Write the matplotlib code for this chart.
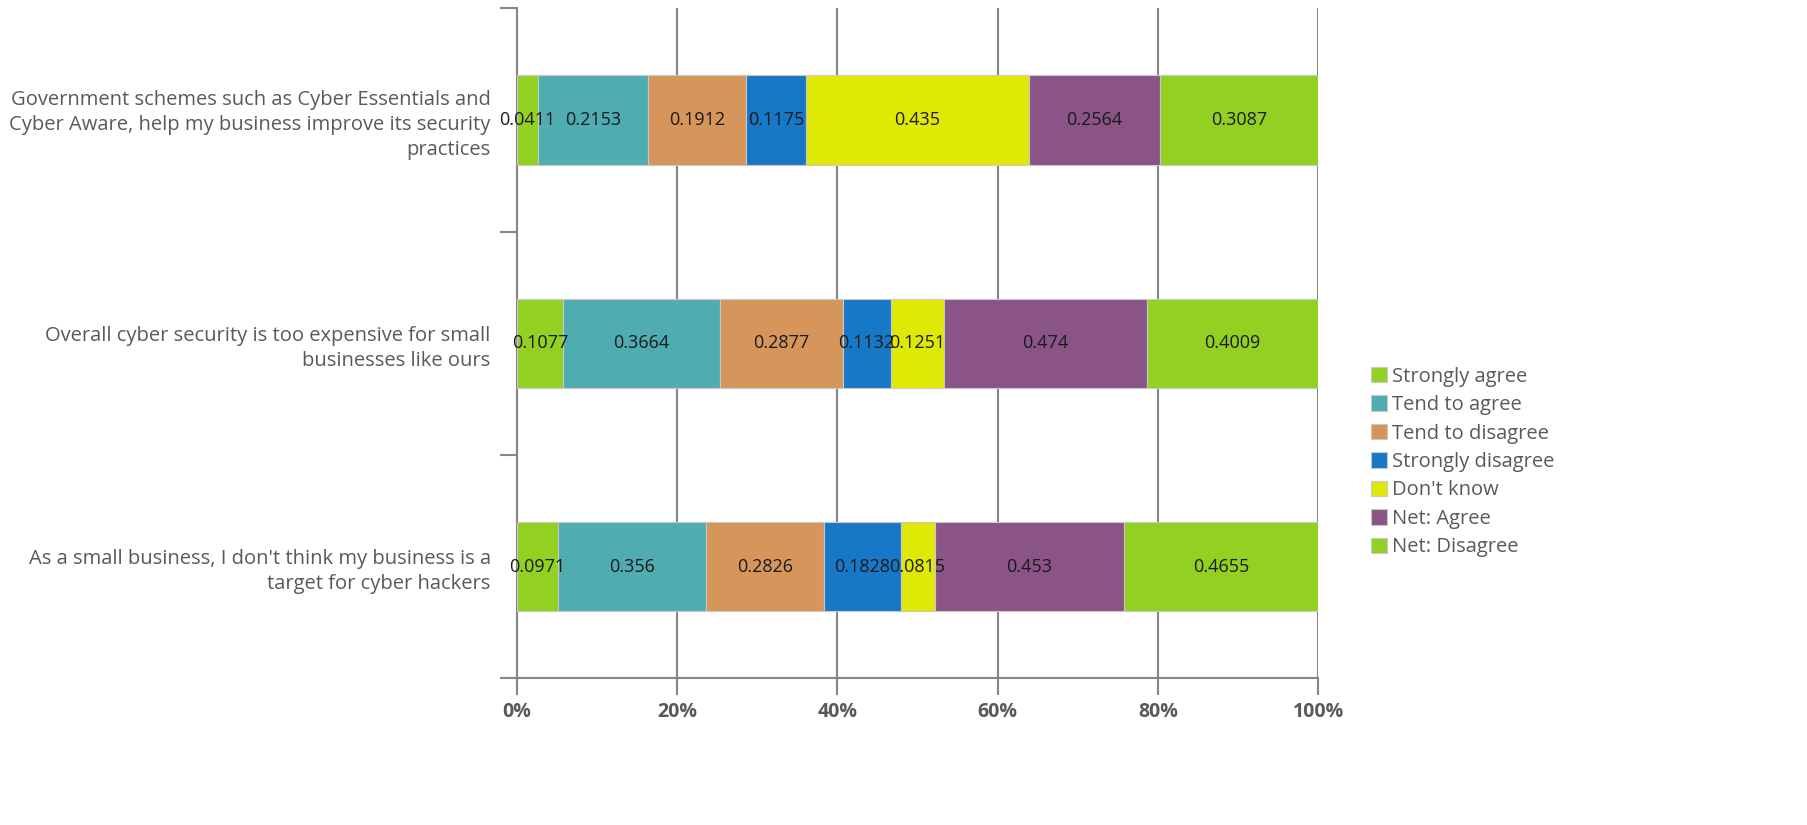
import matplotlib.pyplot as plt
import numpy as np

# Survey statements (top to bottom as in the chart)
statements = [
    "Government schemes such as Cyber Essentials and\nCyber Aware, help my business improve its security\npractices",
    "Overall cyber security is too expensive for small\nbusinesses like ours",
    "As a small business, I don't think my business is a\ntarget for cyber hackers",
]
series = ["Strongly agree", "Tend to agree", "Tend to disagree", "Strongly disagree",
          "Don't know", "Net: Agree", "Net: Disagree"]

strongly_agree = [0.0411, 0.1077, 0.0971]
tend_agree = [0.2153, 0.3664, 0.356]
tend_disagree = [0.1912, 0.2877, 0.2826]
strongly_disagree = [0.1175, 0.1132, 0.1828]
dont_know = [0.435, 0.1251, 0.0815]
net_agree = [0.2564, 0.474, 0.453]
net_disagree = [0.3087, 0.4009, 0.4655]

colors = ["#92d022", "#4fadb2", "#d6955a", "#1878c8", "#e0e805", "#8a5486", "#92d022"]

values = np.array([strongly_agree, tend_agree, tend_disagree, strongly_disagree,
                   dont_know, net_agree, net_disagree])
totals = values.sum(axis=0)
shares = values / totals

fig = plt.figure(figsize=(18.08, 8.25), dpi=100)
ax = fig.add_axes([0.286, 0.178, 0.443, 0.812])

ypos = np.array([2, 1, 0])
left = np.zeros(3)
for i, name in enumerate(series):
    ax.barh(ypos, shares[i], left=left, height=0.4, color=colors[i],
            edgecolor="#c8c8c8", linewidth=0.8, label=name, zorder=3)
    for j in range(3):
        ax.text(left[j] + shares[i][j] / 2, ypos[j], f"{values[i][j]:g}",
                ha="center", va="center", fontsize=13, color="#1a1a1a",
                family="Open Sans", zorder=4)
    left += shares[i]

ax.set_xlim(0, 1)
ax.set_ylim(-0.5, 2.5)
ax.set_xticks(np.arange(0, 1.01, 0.2))
ax.set_xticklabels([f"{int(round(v * 100))}%" for v in np.arange(0, 1.01, 0.2)],
                   fontsize=14, fontweight="bold", color="#595959", family="Open Sans")
ax.tick_params(axis="x", length=12, width=1.5, color="#868686", pad=5)
ax.grid(axis="x", color="#868686", linewidth=1.5, zorder=0)

ax.set_yticks([-0.5, 0.5, 1.5, 2.5])
ax.set_yticklabels([])
ax.tick_params(axis="y", which="major", length=12, width=1.5, color="#868686")
ax.set_yticks(ypos, minor=True)
ax.set_yticklabels(statements, minor=True, fontsize=14.5, color="#595959",
                   family="Open Sans", linespacing=1.35)
ax.tick_params(axis="y", which="minor", length=0, pad=19)

for s in ["top", "right"]:
    ax.spines[s].set_visible(False)
for s in ["left", "bottom"]:
    ax.spines[s].set_color("#868686")
    ax.spines[s].set_linewidth(1.5)

handles, labels = ax.get_legend_handles_labels()
leg = fig.legend(handles, labels, loc="center left", bbox_to_anchor=(0.748, 0.44),
                 frameon=False, prop={"family": "Open Sans", "size": 14.5},
                 handlelength=0.8, handleheight=0.8, handletextpad=0.25, labelspacing=0.42)
for t in leg.get_texts():
    t.set_color("#595959")

fig.savefig("out.png", dpi=100)
